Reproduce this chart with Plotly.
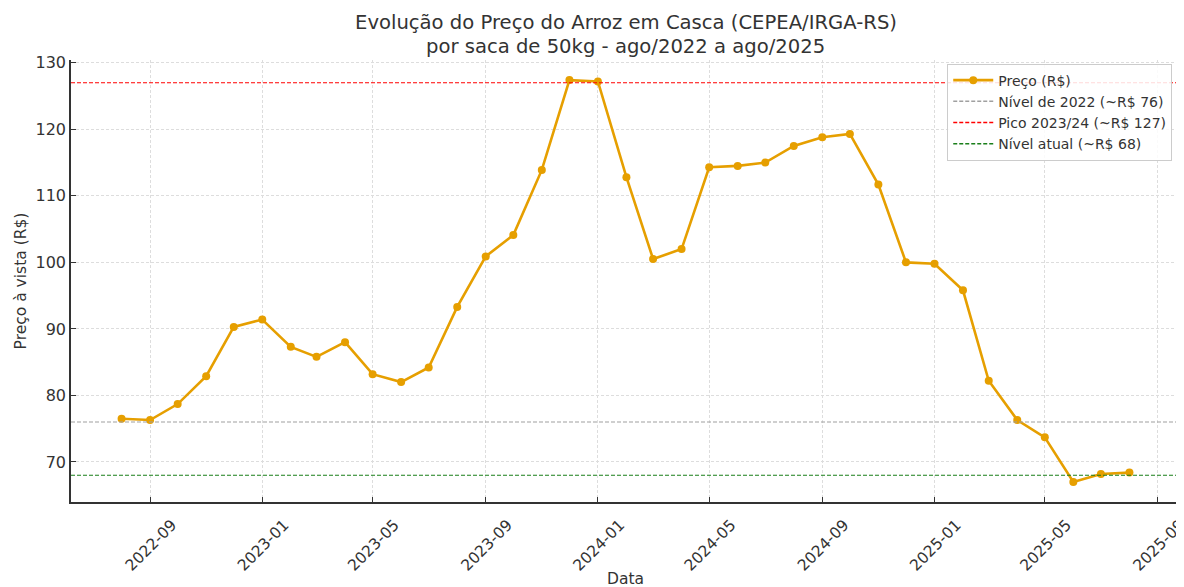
import plotly.graph_objects as go

dates = ["2022-08-01","2022-09-01","2022-10-01","2022-11-01","2022-12-01",
         "2023-01-01","2023-02-01","2023-03-01","2023-04-01","2023-05-01","2023-06-01",
         "2023-07-01","2023-08-01","2023-09-01","2023-10-01","2023-11-01","2023-12-01",
         "2024-01-01","2024-02-01","2024-03-01","2024-04-01","2024-05-01","2024-06-01",
         "2024-07-01","2024-08-01","2024-09-01","2024-10-01","2024-11-01","2024-12-01",
         "2025-01-01","2025-02-01","2025-03-01","2025-04-01","2025-05-01","2025-06-01",
         "2025-07-01","2025-08-01"]
prices = [76.5, 76.3, 78.7, 82.9, 90.3,
          91.4, 87.3, 85.8, 88.0, 83.2, 82.0,
          84.2, 93.3, 100.9, 104.1, 113.9, 127.4,
          127.2, 112.8, 100.5, 102.0, 114.3, 114.5,
          115.0, 117.5, 118.8, 119.3, 111.7, 100.0,
          99.8, 95.8, 82.2, 76.3, 73.7, 67.0,
          68.2, 68.4]

ref_names = ["Nível de 2022 (~R$ 76)", "Pico 2023/24 (~R$ 127)", "Nível atual (~R$ 68)"]
ref_values = [76, 127, 68]
ref_colors = ["#A0A0A0", "#FF0000", "#1A7F1A"]

title_lines = ["Evolução do Preço do Arroz em Casca (CEPEA/IRGA-RS)",
               "por saca de 50kg - ago/2022 a ago/2025"]

FONT = "DejaVu Sans"
TXT = "#333333"
DASH = "4px,2px"
PH = 442.0  # plot height in px

fig = go.Figure()
fig.add_trace(go.Scatter(
    x=dates, y=prices, mode="lines+markers", name="Preço (R$)",
    line=dict(color="#E69F00", width=2.6),
    marker=dict(color="#E69F00", size=8),
))
for n, v, c in zip(ref_names, ref_values, ref_colors):
    fig.add_hline(y=v, line=dict(color=c, width=1.1, dash=DASH), layer="above")
    fig.add_trace(go.Scatter(x=[None], y=[None], mode="lines", name=n,
                             line=dict(color=c, width=1.5, dash=DASH)))

fig.update_layout(
    width=1176, height=579,
    margin=dict(l=63, r=4, t=52, b=85, autoexpand=False),
    paper_bgcolor="white", plot_bgcolor="white",
    font=dict(family=FONT, size=14, color=TXT),
    legend=dict(x=0.993, xanchor="right", y=0.992, yanchor="top",
                bgcolor="rgba(255,255,255,0.85)", bordercolor="#CCCCCC", borderwidth=1,
                font=dict(family=FONT, size=14, color=TXT), tracegroupgap=0,
                itemwidth=40),
    showlegend=True,
    annotations=[
        dict(text=title_lines[0], xref="paper", yref="paper", x=0.5, y=1 + 38 / PH,
             xanchor="center", yanchor="middle", showarrow=False,
             font=dict(family=FONT, size=19.6, color=TXT)),
        dict(text=title_lines[1], xref="paper", yref="paper", x=0.5, y=1 + 14 / PH,
             xanchor="center", yanchor="middle", showarrow=False,
             font=dict(family=FONT, size=19.6, color=TXT)),
        dict(text="Data", xref="paper", yref="paper", x=0.5, y=-77 / PH,
             xanchor="center", yanchor="middle", showarrow=False,
             font=dict(family=FONT, size=15.5, color=TXT)),
    ],
)
fig.update_xaxes(
    type="date", range=["2022-06-07", "2025-09-25"], automargin=False,
    tick0="2022-09-01", dtick="M4", tickformat="%Y-%m", tickangle=-45,
    ticklabelshift=22, ticklabelstandoff=6, ticklabeloverflow="allow",
    showgrid=True, gridcolor="#DDDDDD", griddash="3px,2px", gridwidth=1,
    showline=True, linecolor="#333333", linewidth=1.5,
    ticks="inside", ticklen=5, tickcolor="#333333",
    tickfont=dict(family=FONT, size=15.5, color=TXT),
    zeroline=False,
)
fig.update_yaxes(
    range=[63.98, 130.42], tickvals=[70, 80, 90, 100, 110, 120, 130], automargin=False,
    showgrid=True, gridcolor="#DDDDDD", griddash="3px,2px", gridwidth=1,
    showline=True, linecolor="#333333", linewidth=1.5,
    ticks="inside", ticklen=5, tickcolor="#333333",
    tickfont=dict(family=FONT, size=16, color=TXT),
    title=dict(text="Preço à vista (R$)", font=dict(family=FONT, size=15.5, color=TXT), standoff=5),
    zeroline=False,
)

fig.write_html("out.html")
